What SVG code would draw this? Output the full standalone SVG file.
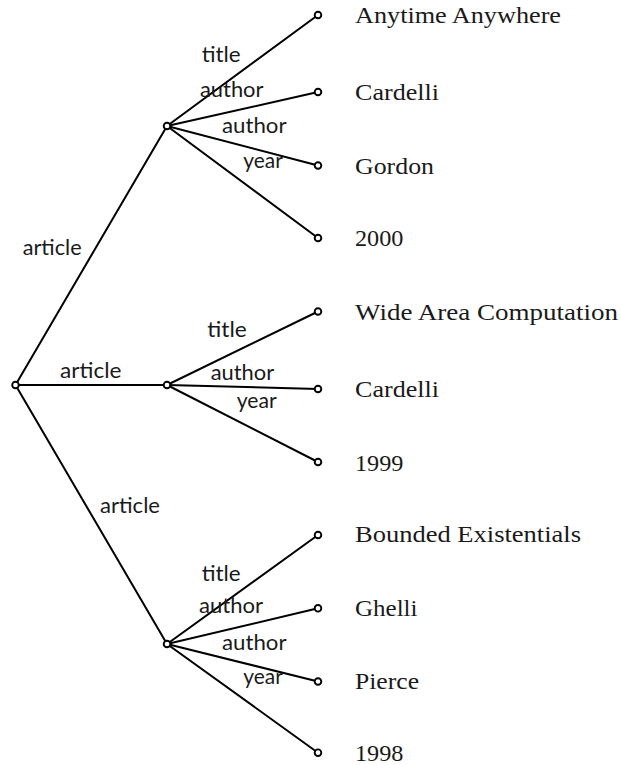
<svg xmlns="http://www.w3.org/2000/svg" width="621" height="765" viewBox="0 0 621 765">
  <style>
    .edge { stroke: #000; stroke-width: 2; fill: none; stroke-linecap: round; }
    .node { fill: #fff; stroke: #000; stroke-width: 1.9; }
    .lbl { font-family: Lato, "Open Sans", "DejaVu Sans", sans-serif; font-size: 21px; fill: #1a1a1a; }
    .val { font-family: "Liberation Serif", "Times New Roman", serif; font-size: 24px; fill: #1a1a1a; }
  </style>
  <rect width="621" height="765" fill="#fff"/>

  <!-- connectors -->
  <g id="edges">
    <line class="edge" x1="15.5" y1="385" x2="167" y2="126"/>
    <line class="edge" x1="15.5" y1="385" x2="167" y2="385"/>
    <line class="edge" x1="15.5" y1="385" x2="167" y2="644"/>

    <line class="edge" x1="167" y1="126" x2="318" y2="15"/>
    <line class="edge" x1="167" y1="126" x2="318" y2="92"/>
    <line class="edge" x1="167" y1="126" x2="318" y2="165.5"/>
    <line class="edge" x1="167" y1="126" x2="318" y2="238"/>

    <line class="edge" x1="167" y1="385" x2="318" y2="311.5"/>
    <line class="edge" x1="167" y1="385" x2="318" y2="389"/>
    <line class="edge" x1="167" y1="385" x2="318" y2="462"/>

    <line class="edge" x1="167" y1="644" x2="318" y2="535"/>
    <line class="edge" x1="167" y1="644" x2="318" y2="608.3"/>
    <line class="edge" x1="167" y1="644" x2="318" y2="681.5"/>
    <line class="edge" x1="167" y1="644" x2="318" y2="752.7"/>
  </g>

  <!-- edge labels -->
  <g id="edge-labels">
    <text class="lbl" x="22.7" y="255" textLength="59" lengthAdjust="spacingAndGlyphs">article</text>
    <text class="lbl" x="60" y="378.3" textLength="61.5" lengthAdjust="spacingAndGlyphs">article</text>
    <text class="lbl" x="100" y="513.3" textLength="60" lengthAdjust="spacingAndGlyphs">article</text>

    <text class="lbl" x="201.7" y="61.7" textLength="39" lengthAdjust="spacingAndGlyphs">title</text>
    <text class="lbl" x="200" y="96.7" textLength="63.5" lengthAdjust="spacingAndGlyphs">author</text>
    <text class="lbl" x="222" y="133.3" textLength="64.5" lengthAdjust="spacingAndGlyphs">author</text>
    <text class="lbl" x="243.3" y="168.3" textLength="39.5" lengthAdjust="spacingAndGlyphs">year</text>

    <text class="lbl" x="207.3" y="336.7" textLength="39.5" lengthAdjust="spacingAndGlyphs">title</text>
    <text class="lbl" x="210.7" y="380" textLength="63.5" lengthAdjust="spacingAndGlyphs">author</text>
    <text class="lbl" x="236.7" y="408.3" textLength="40" lengthAdjust="spacingAndGlyphs">year</text>

    <text class="lbl" x="201.7" y="580.7" textLength="39" lengthAdjust="spacingAndGlyphs">title</text>
    <text class="lbl" x="199" y="612.7" textLength="64" lengthAdjust="spacingAndGlyphs">author</text>
    <text class="lbl" x="222" y="650" textLength="64.5" lengthAdjust="spacingAndGlyphs">author</text>
    <text class="lbl" x="243.3" y="684.3" textLength="39.5" lengthAdjust="spacingAndGlyphs">year</text>
  </g>

  <!-- root and record nodes -->
  <g id="root"><circle class="node" cx="15.5" cy="385" r="3.3"/></g>
  <g id="rec1"><circle class="node" cx="167" cy="126" r="3.3"/></g>
  <g id="rec2"><circle class="node" cx="167" cy="385" r="3.3"/></g>
  <g id="rec3"><circle class="node" cx="167" cy="644" r="3.3"/></g>

  <!-- leaf values -->
  <g id="leaf1-title"><circle class="node" cx="318" cy="15" r="3.3"/>
    <text class="val" x="355" y="23" textLength="206" lengthAdjust="spacingAndGlyphs">Anytime Anywhere</text></g>
  <g id="leaf1-author1"><circle class="node" cx="318" cy="92" r="3.3"/>
    <text class="val" x="355" y="100" textLength="84" lengthAdjust="spacingAndGlyphs">Cardelli</text></g>
  <g id="leaf1-author2"><circle class="node" cx="318" cy="165.5" r="3.3"/>
    <text class="val" x="355" y="174" textLength="79" lengthAdjust="spacingAndGlyphs">Gordon</text></g>
  <g id="leaf1-year"><circle class="node" cx="318" cy="238" r="3.3"/>
    <text class="val" x="355" y="246" textLength="48.4" lengthAdjust="spacingAndGlyphs">2000</text></g>

  <g id="leaf2-title"><circle class="node" cx="318" cy="311.5" r="3.3"/>
    <text class="val" x="355" y="319.5" textLength="263" lengthAdjust="spacingAndGlyphs">Wide Area Computation</text></g>
  <g id="leaf2-author"><circle class="node" cx="318" cy="389" r="3.3"/>
    <text class="val" x="355" y="397" textLength="84" lengthAdjust="spacingAndGlyphs">Cardelli</text></g>
  <g id="leaf2-year"><circle class="node" cx="318" cy="462" r="3.3"/>
    <text class="val" x="355" y="470.5" textLength="48.4" lengthAdjust="spacingAndGlyphs">1999</text></g>

  <g id="leaf3-title"><circle class="node" cx="318" cy="535" r="3.3"/>
    <text class="val" x="355" y="542" textLength="226" lengthAdjust="spacingAndGlyphs">Bounded Existentials</text></g>
  <g id="leaf3-author1"><circle class="node" cx="318" cy="608.3" r="3.3"/>
    <text class="val" x="355" y="616" textLength="62.5" lengthAdjust="spacingAndGlyphs">Ghelli</text></g>
  <g id="leaf3-author2"><circle class="node" cx="318" cy="681.5" r="3.3"/>
    <text class="val" x="355" y="689.3" textLength="64" lengthAdjust="spacingAndGlyphs">Pierce</text></g>
  <g id="leaf3-year"><circle class="node" cx="318" cy="752.7" r="3.3"/>
    <text class="val" x="355" y="760.7" textLength="48.4" lengthAdjust="spacingAndGlyphs">1998</text></g>
</svg>
